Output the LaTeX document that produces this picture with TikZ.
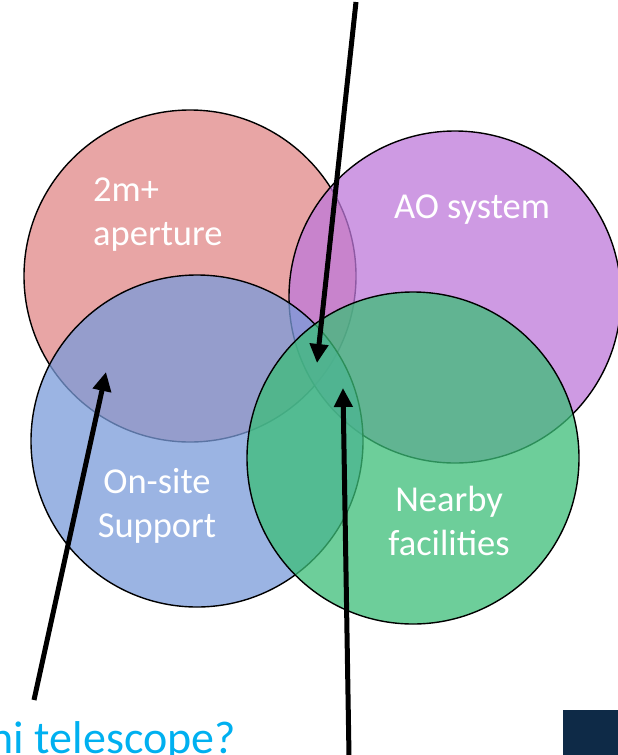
\documentclass[tikz,border=0pt]{standalone}
\usepackage{fontspec}
\setmainfont{Carlito}
\usetikzlibrary{arrows.meta}
\definecolor{cred}{RGB}{224,135,135}
\definecolor{cpurple}{RGB}{190,120,218}
\definecolor{cblue}{RGB}{122,155,218}
\definecolor{cgreen}{RGB}{60,190,120}
\definecolor{cnavy}{RGB}{14,42,71}
\definecolor{ccyan}{RGB}{0,176,240}
\begin{document}
\begin{tikzpicture}[x=1pt,y=-1pt,
  venn/.style={circle, draw=black, line width=1.4pt, minimum size=332pt, inner sep=0pt, fill opacity=0.75},
  lbl/.style={text=white, font=\fontsize{36.5}{44}\selectfont, inner sep=0pt},
  pointer/.style={line width=5pt, -{Triangle[length=19pt,width=18pt]}}
]
\useasboundingbox (0,0) rectangle (618,755);
\clip (0,0) rectangle (618,755);
\node[venn, fill=cred] (red) at (190,276) {};
\node[venn, fill=cpurple] (purple) at (455,297) {};
\node[venn, fill=cblue] (blue) at (197,441) {};
\node[venn, fill=cgreen] (green) at (413,458) {};
\node[lbl, align=left, anchor=north west] (ap) at (93,178) {2m+\\aperture};
\node[lbl] (ao) at (472,210) {AO system};
\node[lbl, align=center] (os) at (157,506) {On-site\\Support};
\node[lbl, align=center] (nf) at (449,521) {Nearby\\facilities};
\node[text=ccyan, font=\fontsize{46}{55}\selectfont, anchor=base east, inner sep=0pt] (q) at (236,753) {ni telescope?};
\node[fill=cnavy, minimum width=55pt, minimum height=45pt, anchor=north west, inner sep=0pt] (nv) at (563,710) {};
\coordinate (a1s) at (356,2);
\coordinate (a1e) at (317,363);
\coordinate (a2s) at (349,756);
\coordinate (a2e) at (343,388);
\coordinate (a3s) at (34,700);
\coordinate (a3e) at (106,372);
\draw[pointer] (a1s) -- (a1e);
\draw[pointer] (a2s) -- (a2e);
\draw[pointer] (a3s) -- (a3e);
\end{tikzpicture}
\end{document}
